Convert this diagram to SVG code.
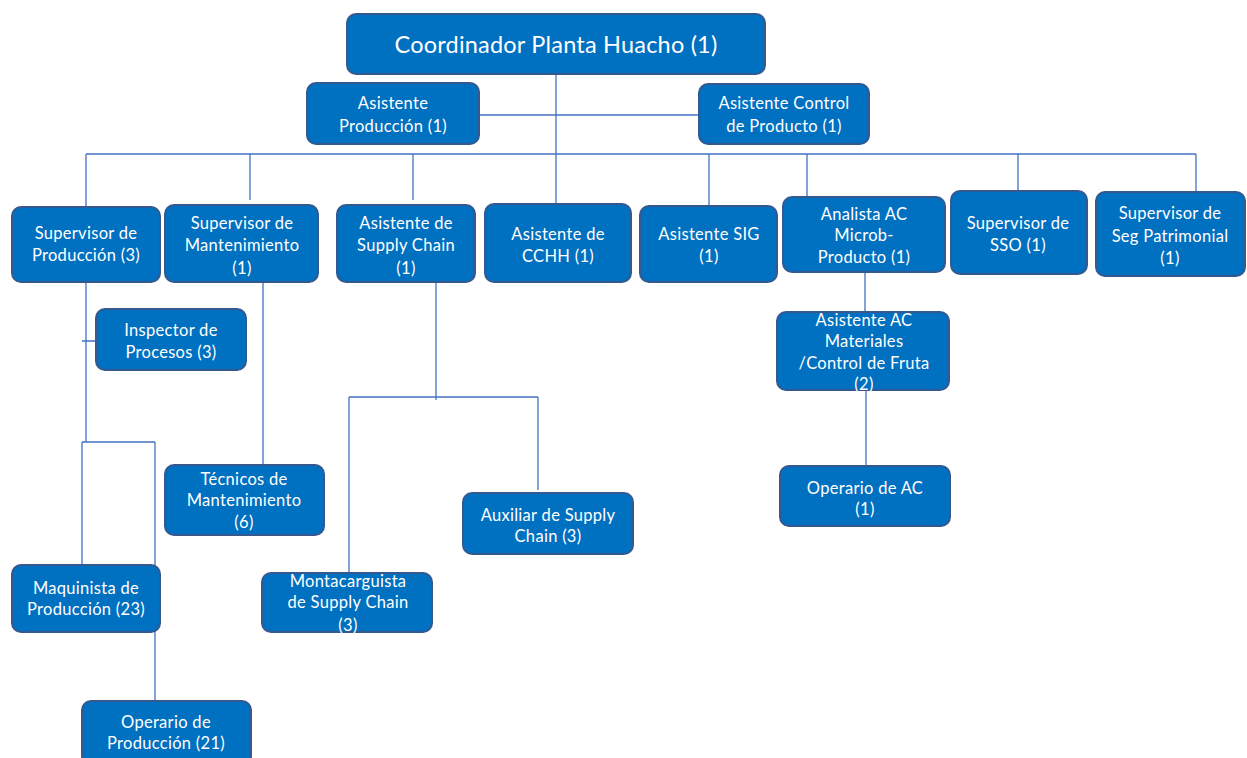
<svg xmlns="http://www.w3.org/2000/svg" width="1247" height="758" viewBox="0 0 1247 758">
<style>
.b{fill:#0070C0;stroke:#35598F;stroke-width:2}
.t{fill:#fff;font-family:Lato,"Open Sans",sans-serif;font-size:16.5px;letter-spacing:0.3px;text-anchor:middle}
.big{font-size:23.5px;letter-spacing:0.2px}
.c{fill:none;stroke:#4472C4;stroke-width:1.3}
</style>
<rect width="1247" height="758" fill="#fff"/>
<g id="connectors">
<path class="c" d="M86 154H1196M86 154V207M250 154V200M413 154V200M556 74V205M709 154V206M807 154V197M1018 154V191M1196 154V192"/>
<path class="c" d="M479 115H699"/>
<path class="c" d="M86 282V442M82 442H155M82 442V565M155 442V701M82 341H96"/>
<path class="c" d="M263 282V465"/>
<path class="c" d="M436 282V400M349 397H538M349 397V573M538 397V490"/>
<path class="c" d="M865 272V312M866 390V466"/>
</g>
<g id="coordinador"><rect class="b" x="347" y="14" width="418" height="60" rx="9"/><text class="t big" x="556" y="53">Coordinador Planta Huacho (1)</text></g>
<g id="asist-produccion"><rect class="b" x="307" y="83" width="172" height="61" rx="9"/><text class="t" x="393" y="109">Asistente</text><text class="t" x="393" y="132">Producción (1)</text></g>
<g id="asist-control"><rect class="b" x="699" y="84" width="170" height="60" rx="9"/><text class="t" x="784" y="109">Asistente Control</text><text class="t" x="784" y="132">de Producto (1)</text></g>
<g id="sup-produccion"><rect class="b" x="12" y="207" width="148" height="75" rx="9"/><text class="t" x="86" y="239">Supervisor de</text><text class="t" x="86" y="261">Producción (3)</text></g>
<g id="sup-mant"><rect class="b" x="165" y="205" width="153" height="77" rx="9"/><text class="t" x="242" y="229">Supervisor de</text><text class="t" x="242" y="251">Mantenimiento</text><text class="t" x="242" y="274">(1)</text></g>
<g id="asist-supply"><rect class="b" x="337" y="205" width="138" height="77" rx="9"/><text class="t" x="406" y="229">Asistente de</text><text class="t" x="406" y="251">Supply Chain</text><text class="t" x="406" y="274">(1)</text></g>
<g id="asist-cchh"><rect class="b" x="485" y="204" width="146" height="78" rx="9"/><text class="t" x="558" y="240">Asistente de</text><text class="t" x="558" y="262">CCHH (1)</text></g>
<g id="asist-sig"><rect class="b" x="640" y="206" width="137" height="76" rx="9"/><text class="t" x="709" y="240">Asistente SIG</text><text class="t" x="709" y="262">(1)</text></g>
<g id="analista-ac"><rect class="b" x="783" y="197" width="162" height="75" rx="9"/><text class="t" x="864" y="220">Analista AC</text><text class="t" x="864" y="241">Microb-</text><text class="t" x="864" y="263">Producto (1)</text></g>
<g id="sup-sso"><rect class="b" x="951" y="191" width="136" height="83" rx="9"/><text class="t" x="1018" y="229">Supervisor de</text><text class="t" x="1018" y="251">SSO (1)</text></g>
<g id="sup-seg"><rect class="b" x="1096" y="192" width="149" height="84" rx="9"/><text class="t" x="1170" y="219">Supervisor de</text><text class="t" x="1170" y="242">Seg Patrimonial</text><text class="t" x="1170" y="264">(1)</text></g>
<g id="inspector"><rect class="b" x="96" y="309" width="150" height="61" rx="9"/><text class="t" x="171" y="336">Inspector de</text><text class="t" x="171" y="358">Procesos (3)</text></g>
<g id="tecnicos"><rect class="b" x="165" y="465" width="159" height="70" rx="9"/><text class="t" x="244" y="485">Técnicos de</text><text class="t" x="244" y="506">Mantenimiento</text><text class="t" x="244" y="528">(6)</text></g>
<g id="maquinista"><rect class="b" x="12" y="565" width="148" height="67" rx="9"/><text class="t" x="86" y="594">Maquinista de</text><text class="t" x="86" y="615">Producción (23)</text></g>
<g id="operario-prod"><rect class="b" x="82" y="701" width="169" height="64" rx="9"/><text class="t" x="166" y="728">Operario de</text><text class="t" x="166" y="749">Producción (21)</text></g>
<g id="montacarguista"><rect class="b" x="262" y="573" width="170" height="59" rx="9"/><text class="t" x="348" y="587">Montacarguista</text><text class="t" x="348" y="608">de Supply Chain</text><text class="t" x="348" y="631">(3)</text></g>
<g id="auxiliar"><rect class="b" x="463" y="493" width="170" height="61" rx="9"/><text class="t" x="548" y="521">Auxiliar de Supply</text><text class="t" x="548" y="542">Chain (3)</text></g>
<g id="asist-ac-mat"><rect class="b" x="777" y="312" width="172" height="78" rx="9"/><text class="t" x="864" y="326">Asistente  AC</text><text class="t" x="864" y="347">Materiales</text><text class="t" x="864" y="369">/Control de Fruta</text><text class="t" x="864" y="390">(2)</text></g>
<g id="operario-ac"><rect class="b" x="780" y="466" width="170" height="60" rx="9"/><text class="t" x="865" y="494">Operario de AC</text><text class="t" x="865" y="515">(1)</text></g>
</svg>
